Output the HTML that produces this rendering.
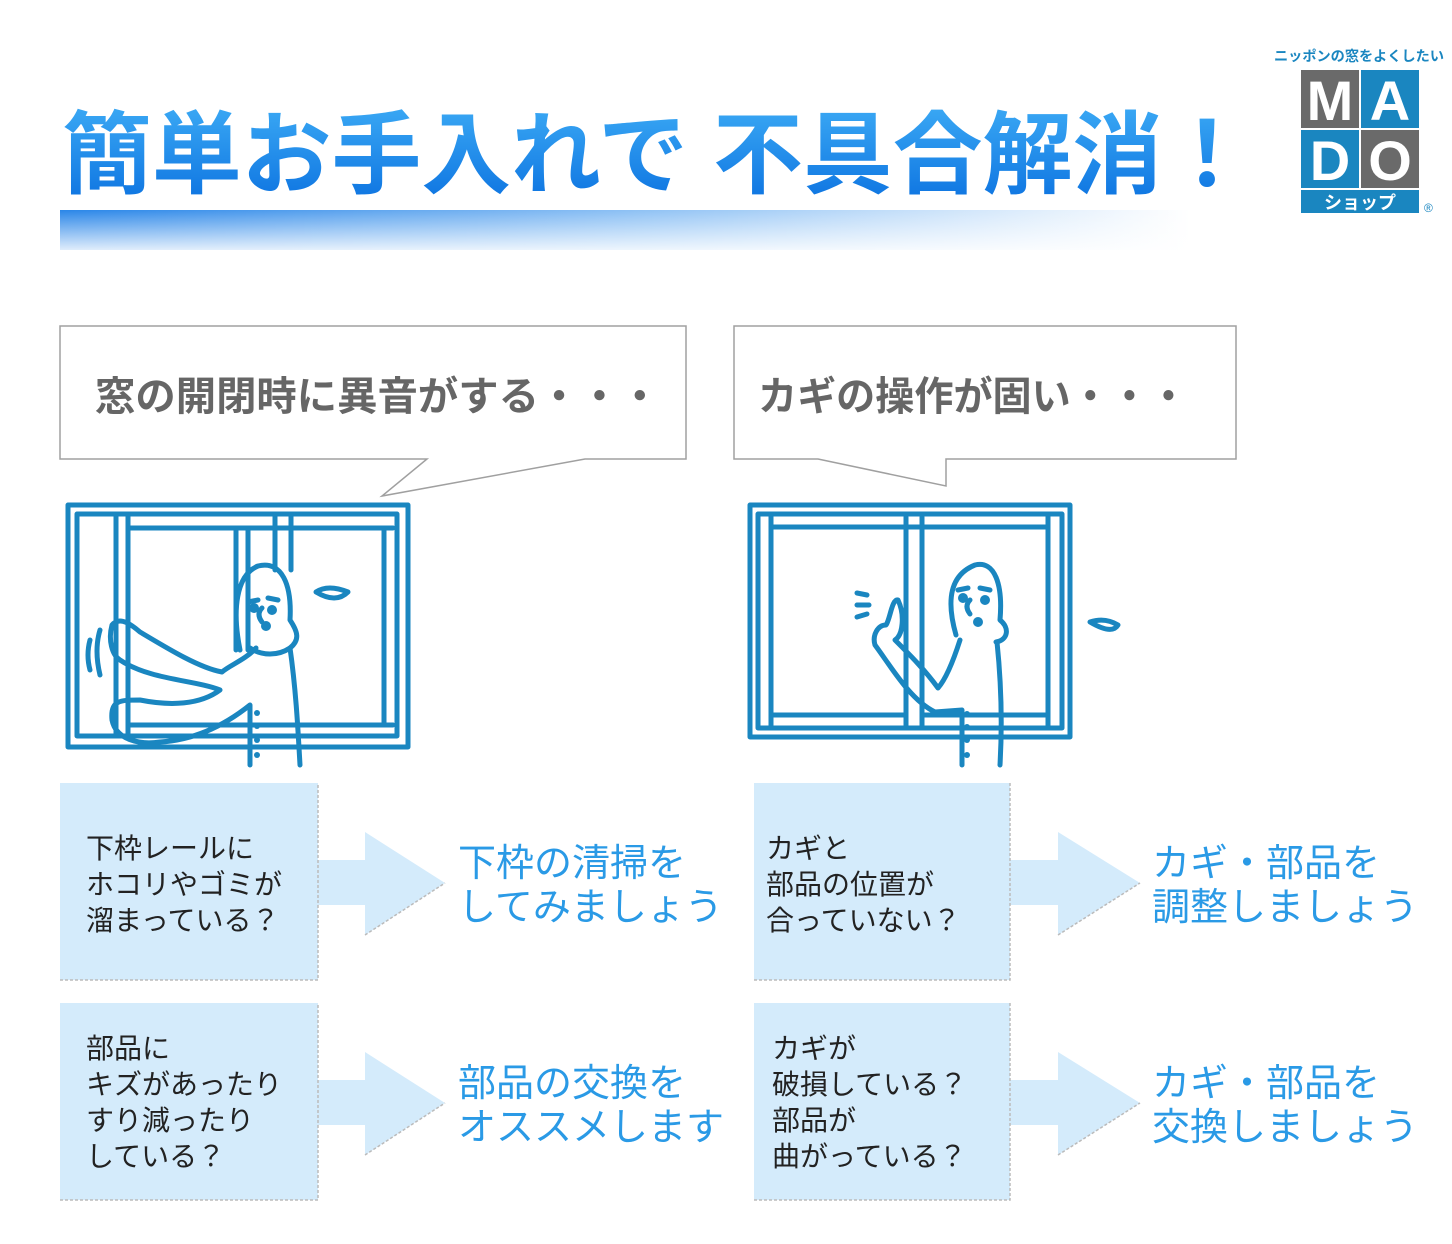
<!DOCTYPE html>
<html><head><meta charset="utf-8"><style>
html,body{margin:0;padding:0;background:#fff;}
svg{display:block;font-family:"Liberation Sans","Noto Sans CJK JP",sans-serif;}
</style></head><body>
<svg width="1452" height="1244" viewBox="0 0 1452 1244" xmlns="http://www.w3.org/2000/svg">
<defs>
<linearGradient id="tg" x1="0" y1="0" x2="0" y2="1"><stop offset="0" stop-color="#3aa8f4"/><stop offset="1" stop-color="#0c72e0"/></linearGradient>
<linearGradient id="bar" x1="0" y1="0" x2="1" y2="0"><stop offset="0" stop-color="#2a86e8"/><stop offset="0.5" stop-color="#8cc0f4"/><stop offset="1" stop-color="#ffffff"/></linearGradient>
<linearGradient id="barv" x1="0" y1="0" x2="0" y2="1"><stop offset="0" stop-color="#fff" stop-opacity="0"/><stop offset="1" stop-color="#fff" stop-opacity="0.85"/></linearGradient>
</defs>
<rect width="1452" height="1244" fill="#fff"/>
<text x="62" y="186" font-size="90" font-weight="bold" fill="url(#tg)" textLength="1190" lengthAdjust="spacingAndGlyphs">簡単お手入れで 不具合解消！</text>
<rect x="60" y="210" width="1130" height="40" fill="url(#bar)"/>
<rect x="60" y="210" width="1130" height="40" fill="url(#barv)"/>
<text x="1274" y="61" font-size="14" font-weight="bold" fill="#1a86c0" textLength="170" lengthAdjust="spacingAndGlyphs">ニッポンの窓をよくしたい</text>
<rect x="1301" y="70" width="58" height="58" fill="#6a6a6a"/>
<rect x="1361" y="70" width="58" height="58" fill="#1a86c0"/>
<rect x="1301" y="130" width="58" height="58" fill="#1a86c0"/>
<rect x="1361" y="130" width="58" height="58" fill="#6a6a6a"/>
<rect x="1301" y="190" width="118" height="23" fill="#1a86c0"/>
<g font-family="Liberation Sans,sans-serif" font-weight="bold" font-size="56" fill="#fff" text-anchor="middle">
<text x="1330" y="120">M</text><text x="1390" y="120">A</text><text x="1330" y="180">D</text><text x="1390" y="180">O</text></g>
<text x="1360" y="209" font-size="18" font-weight="bold" fill="#fff" text-anchor="middle">ショップ</text>
<text x="1424" y="212" font-size="12" fill="#1a86c0">®</text>
<path d="M60,326 H686 V459 H585 L382,496 L427,459 H60 Z" fill="#fff" stroke="#a0a0a0" stroke-width="1.5"/>
<path d="M734,326 H1236 V459 H946 L946,486 L818,459 H734 Z" fill="#fff" stroke="#a0a0a0" stroke-width="1.5"/>
<text x="95" y="410" font-size="40" font-weight="bold" fill="#666" textLength="565" lengthAdjust="spacingAndGlyphs">窓の開閉時に異音がする・・・</text>
<text x="758" y="410" font-size="40" font-weight="bold" fill="#666" textLength="430" lengthAdjust="spacingAndGlyphs">カギの操作が固い・・・</text>
<g fill="none" stroke="#1a86c0" stroke-width="5" stroke-linecap="round" stroke-linejoin="round">
<rect x="68" y="505" width="340" height="242"/>
<rect x="77" y="514" width="320" height="222"/>
<path d="M116,515 V735 M128,515 V735 M128,528 H393 M128,725 H393"/>
<path d="M236,528 V650 M248,528 V650 M275,515 V570 M291,515 V570"/>
<path d="M384,528 V725"/>
<path d="M240,650 C232,610 236,575 258,566 C282,560 292,585 290,620 C298,632 300,640 290,648 C278,656 262,656 250,648"/>
<path d="M262,608 q-6,6 0,14 M248,602 l10,-2 M268,598 l10,2"/>
<circle cx="254" cy="608" r="2.5" fill="#1a86c0"/><circle cx="272" cy="610" r="2.5" fill="#1a86c0"/>
<circle cx="266" cy="626" r="2.5" fill="#1a86c0"/>
<path d="M256,648 C245,660 230,665 222,672 C200,668 170,650 140,632 C126,620 118,618 112,625 C108,640 112,655 120,660 C150,680 195,680 220,690 C200,705 170,706 140,700 C120,700 110,700 112,720 C116,740 140,745 160,742 C195,740 225,725 250,705 V765"/>
<path d="M290,648 C296,690 298,730 300,765"/>
<path d="M100,630 q-6,20 0,45 M90,640 q-4,15 0,30"/>
<path d="M316,592 q12,-8 32,0 q-12,12 -32,0 Z"/>
<g fill="#1a86c0" stroke="none"><circle cx="257" cy="713" r="3"/><circle cx="257" cy="726" r="3"/><circle cx="257" cy="740" r="3"/><circle cx="257" cy="755" r="3"/></g>
</g>
<g fill="none" stroke="#1a86c0" stroke-width="5" stroke-linecap="round" stroke-linejoin="round">
<rect x="750" y="505" width="320" height="232"/>
<rect x="758" y="514" width="304" height="214"/>
<path d="M771,515 V727 M771,527 H1048 M1048,515 V727"/>
<path d="M906,517 V727 M922,517 V727 M771,715 H906 M922,715 H1048"/>
<path d="M956,635 C946,600 950,575 975,565 C995,560 1003,585 1000,620 C1010,628 1008,640 996,642"/>
<path d="M970,600 q-6,6 0,14 M958,590 l10,-2 M980,588 l10,2"/>
<circle cx="963" cy="598" r="2.5" fill="#1a86c0"/><circle cx="985" cy="600" r="2.5" fill="#1a86c0"/>
<circle cx="978" cy="622" r="2.5" fill="#1a86c0"/>
<path d="M960,640 C952,665 945,680 938,688 C925,670 910,655 895,640 C903,635 905,615 898,600 C892,598 890,620 886,625 C878,625 872,635 875,645 C890,665 910,700 935,712 L962,710 V765"/>
<path d="M997,642 C1002,690 1002,730 1000,765"/>
<path d="M857,593 l10,2 M857,605 l12,0 M857,617 l10,-3"/>
<path d="M1090,622 q15,-5 28,3 q-6,10 -28,-3 Z"/>
<g fill="#1a86c0" stroke="none"><circle cx="967" cy="714" r="3"/><circle cx="967" cy="727" r="3"/><circle cx="967" cy="740" r="3"/><circle cx="967" cy="755" r="3"/></g>
</g>
<g fill="#d4ebfb">
<rect x="60" y="783" width="258" height="197"/>
<rect x="60" y="1003" width="258" height="197"/>
<rect x="754" y="783" width="256" height="197"/>
<rect x="754" y="1003" width="256" height="197"/>
<path d="M318,860 H365 V832 L445,883 L365,935 V905 H318 Z"/>
<path d="M318,1080 H365 V1052 L445,1103 L365,1155 V1125 H318 Z"/>
<path d="M1010,860 H1058 V832 L1140,883 L1058,935 V905 H1010 Z"/>
<path d="M1010,1080 H1058 V1052 L1140,1103 L1058,1155 V1125 H1010 Z"/>
</g>
<g stroke="#bbb" stroke-width="1.5" stroke-dasharray="3,2" fill="none">
<path d="M60,980 H318 V783"/><path d="M60,1200 H318 V1003"/>
<path d="M754,980 H1010 V783"/><path d="M754,1200 H1010 V1003"/>
<path d="M365,935 L445,883"/><path d="M365,1155 L445,1103"/>
<path d="M1058,935 L1140,883"/><path d="M1058,1155 L1140,1103"/>
</g>
<g font-size="28" fill="#222">
<text x="86" y="858">下枠レールに</text>
<text x="86" y="894">ホコリやゴミが</text>
<text x="86" y="930">溜まっている？</text>
<text x="86" y="1058">部品に</text>
<text x="86" y="1094">キズがあったり</text>
<text x="86" y="1130">すり減ったり</text>
<text x="86" y="1166">している？</text>
<text x="766" y="858">カギと</text>
<text x="766" y="894">部品の位置が</text>
<text x="766" y="930">合っていない？</text>
<text x="772" y="1058">カギが</text>
<text x="772" y="1094">破損している？</text>
<text x="772" y="1130">部品が</text>
<text x="772" y="1166">曲がっている？</text>
</g>
<g font-size="38" fill="#2a9ae6">
<text x="458" y="876">下枠の清掃を</text>
<text x="458" y="920">してみましょう</text>
<text x="458" y="1096">部品の交換を</text>
<text x="458" y="1140">オススメします</text>
<text x="1152" y="876">カギ・部品を</text>
<text x="1152" y="920">調整しましょう</text>
<text x="1152" y="1096">カギ・部品を</text>
<text x="1152" y="1140">交換しましょう</text>
</g>
</svg>
</body></html>
